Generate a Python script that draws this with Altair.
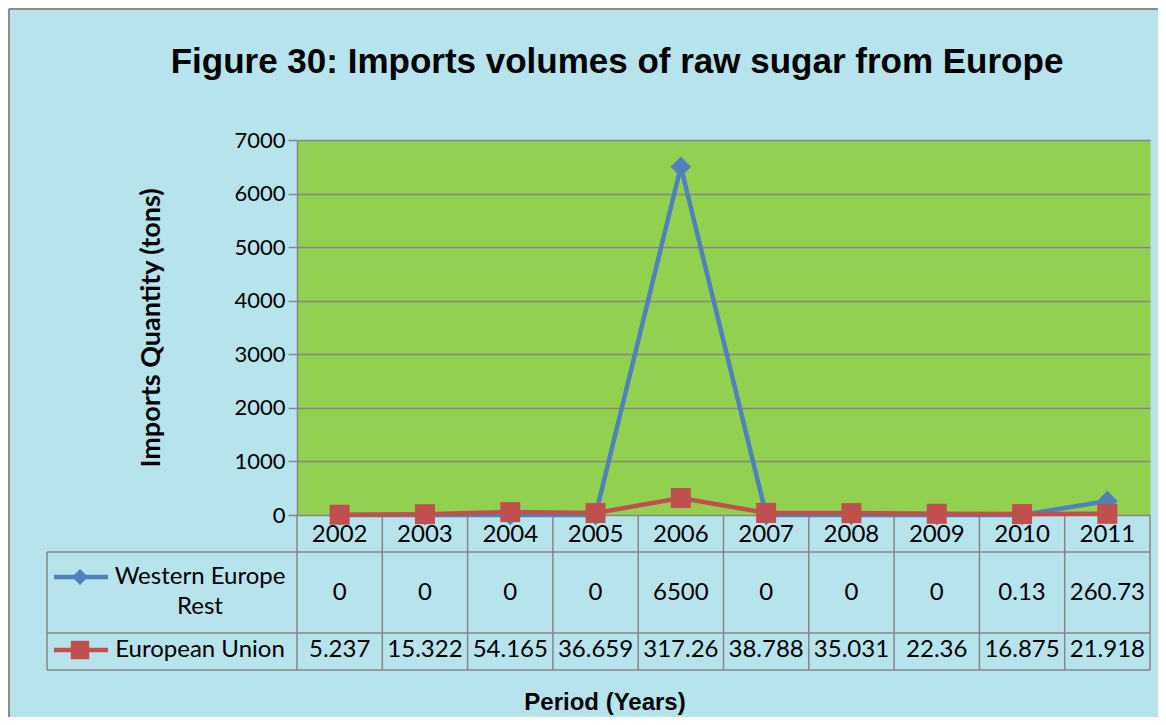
import altair as alt
import pandas as pd

# ---------------- data ----------------
years = ["2002", "2003", "2004", "2005", "2006", "2007", "2008", "2009", "2010", "2011"]
western_europe_rest = [0, 0, 0, 0, 6500, 0, 0, 0, 0.13, 260.73]
european_union = [5.237, 15.322, 54.165, 36.659, 317.26, 38.788, 35.031, 22.36, 16.875, 21.918]
series_names = ["Western Europe\nRest", "European Union"]
series_colors = ["#4F81BD", "#C0504D"]
y_ticks = [0, 1000, 2000, 3000, 4000, 5000, 6000, 7000]

title_text = "Figure 30: Imports volumes of raw sugar from Europe"
y_title = "Imports Quantity (tons)"
x_title = "Period (Years)"

# ---------------- layout ----------------
W, H = 853, 375
PAD = {"left": 289, "top": 132, "right": 8, "bottom": 202}
HDR_BOTTOM = H + 37
ROW1_BOTTOM = H + 118
ROW2_BOTTOM = H + 155
LABEL_LEFT = -250
GRID = "#868686"
BG = "#b7e3ec"
TXT_FONT = "Lato"
HEAD_FONT = "Liberation Sans"
TABLE_FS = 24


def fmt(v):
    return f"{v:g}"


n = len(years)
df_we = pd.DataFrame({"year": years, "center": [i + 0.5 for i in range(n)],
                      "value": western_europe_rest,
                      "label": [fmt(v) for v in western_europe_rest]})
df_eu = pd.DataFrame({"year": years, "center": [i + 0.5 for i in range(n)],
                      "value": european_union,
                      "label": [fmt(v) for v in european_union]})
df_bounds = pd.DataFrame({"b": list(range(n + 1))})
df_series = pd.DataFrame({"name": series_names, "color": series_colors})
one = pd.DataFrame({"k": [0]})

xscale = alt.Scale(domain=[0, n], nice=False, zero=False)
x_enc = alt.X("center:Q", scale=xscale, axis=None)
y_enc = alt.Y(
    "value:Q",
    scale=alt.Scale(domain=[0, 7000], nice=False),
    axis=alt.Axis(values=y_ticks, format="d", title=None, grid=True, gridColor=GRID, gridWidth=1.5,
                  domainColor=GRID, domainWidth=1.5, tickColor=GRID, tickSize=9, tickWidth=1.5,
                  labelFontSize=22, labelFont=TXT_FONT, labelColor="black", labelPadding=3),
)

we_line = alt.Chart(df_we).mark_line(color=series_colors[0], strokeWidth=4.5).encode(x=x_enc, y=y_enc)
we_pts = alt.Chart(df_we).mark_point(shape="diamond", filled=True, opacity=1, size=420,
                                     color=series_colors[0]).encode(x=x_enc, y=y_enc)
eu_line = alt.Chart(df_eu).mark_line(color=series_colors[1], strokeWidth=4.5).encode(x=x_enc, y=y_enc)
eu_pts = alt.Chart(df_eu).mark_point(shape="square", filled=True, opacity=1, size=400,
                                     color=series_colors[1]).encode(x=x_enc, y=y_enc)

# ---------------- data table ----------------
vbounds = alt.Chart(df_bounds).mark_rule(color=GRID, strokeWidth=1.5).encode(
    x=alt.X("b:Q", scale=xscale, axis=None), y=alt.value(H), y2=alt.value(ROW2_BOTTOM))
left_border = alt.Chart(one).mark_rule(color=GRID, strokeWidth=1.5).encode(
    x=alt.value(LABEL_LEFT), y=alt.value(HDR_BOTTOM), y2=alt.value(ROW2_BOTTOM))
hlines = [
    alt.Chart(one).mark_rule(color=GRID, strokeWidth=1.5).encode(
        x=alt.value(LABEL_LEFT), x2=alt.value(W), y=alt.value(yy))
    for yy in (HDR_BOTTOM, ROW1_BOTTOM, ROW2_BOTTOM)
]

year_text = alt.Chart(df_we).mark_text(font=TXT_FONT, fontSize=TABLE_FS, color="black",
                                       baseline="middle", align="center").encode(
    x=x_enc, y=alt.value(H + 20), text="year:N")
we_text = alt.Chart(df_we).mark_text(font=TXT_FONT, fontSize=TABLE_FS, color="black",
                                     baseline="middle", align="center").encode(
    x=x_enc, y=alt.value(H + 78), text="label:N")
eu_text = alt.Chart(df_eu).mark_text(font=TXT_FONT, fontSize=TABLE_FS, color="black",
                                     baseline="middle", align="center").encode(
    x=x_enc, y=alt.value(H + 135), text="label:N")

row_label_we = alt.Chart(df_series.iloc[[0]]).mark_text(
    font=TXT_FONT, fontSize=TABLE_FS, color="black", baseline="middle", align="center",
    lineBreak="\n", lineHeight=30).encode(x=alt.value(-97), y=alt.value(H + 62), text="name:N")
row_label_eu = alt.Chart(df_series.iloc[[1]]).mark_text(
    font=TXT_FONT, fontSize=TABLE_FS, color="black", baseline="middle", align="center").encode(
    x=alt.value(-97), y=alt.value(H + 135), text="name:N")

leg_we_line = alt.Chart(one).mark_rule(color=series_colors[0], strokeWidth=4.5).encode(
    x=alt.value(-243), x2=alt.value(-189), y=alt.value(H + 62))
leg_we_pt = alt.Chart(one).mark_point(shape="diamond", filled=True, opacity=1, size=260,
                                      color=series_colors[0]).encode(
    x=alt.value(-217), y=alt.value(H + 62))
leg_eu_line = alt.Chart(one).mark_rule(color=series_colors[1], strokeWidth=4.5).encode(
    x=alt.value(-243), x2=alt.value(-189), y=alt.value(H + 135))
leg_eu_pt = alt.Chart(one).mark_point(shape="square", filled=True, opacity=1, size=340,
                                      color=series_colors[1]).encode(
    x=alt.value(-217), y=alt.value(H + 135))

# ---------------- titles and frame ----------------
title_mark = alt.Chart(one).mark_text(font=HEAD_FONT, fontSize=35, fontWeight="bold",
                                      color="black", align="center", baseline="middle").encode(
    x=alt.value(320), y=alt.value(-78), text=alt.value(title_text))
ytitle_mark = alt.Chart(one).mark_text(font=TXT_FONT, fontSize=27, fontWeight="bold", angle=270,
                                       color="black", align="center", baseline="middle").encode(
    x=alt.value(-145), y=alt.value(188), text=alt.value(y_title))
xtitle_mark = alt.Chart(one).mark_text(font=HEAD_FONT, fontSize=24, fontWeight="bold",
                                       color="black", align="center", baseline="middle").encode(
    x=alt.value(308), y=alt.value(H + 188), text=alt.value(x_title))
frame_left = alt.Chart(one).mark_rule(color="#8c8c8c", strokeWidth=2).encode(
    x=alt.value(-288), y=alt.value(-131), y2=alt.value(H + 202))
frame_top = alt.Chart(one).mark_rule(color="#8c8c8c", strokeWidth=2).encode(
    x=alt.value(-288), x2=alt.value(W + 8), y=alt.value(-131))

chart = alt.layer(
    vbounds, left_border, *hlines,
    we_line, eu_line, we_pts, eu_pts,
    year_text, we_text, eu_text, row_label_we, row_label_eu,
    leg_we_line, leg_we_pt, leg_eu_line, leg_eu_pt,
    title_mark, ytitle_mark, xtitle_mark, frame_left, frame_top,
).properties(
    width=W, height=H,
    padding=PAD,
    autosize=alt.AutoSizeParams(type="none"),
    background=BG,
).configure_view(fill="#92D050", stroke="transparent")

chart.save("out.html", embed_options={"renderer": "svg", "actions": False})
